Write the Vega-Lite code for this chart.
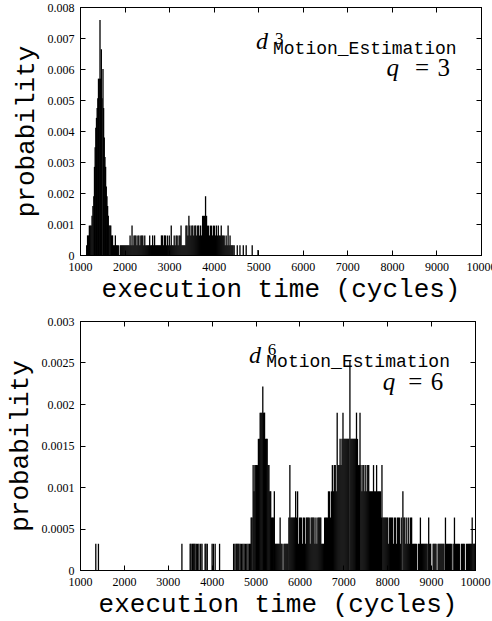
{
  "$schema": "https://vega.github.io/schema/vega-lite/v6.json",
  "padding": {"left": 5, "top": 0, "right": 0, "bottom": 0},
  "background": "white",
  "align": "none",
  "spacing": 12,
  "datasets": {
    "one": [{"k": 1}],
    "top": [
      {"t":1150,"p":0.000316},{"t":1170,"p":0.000632},{"t":1190,"p":0.000632},{"t":1210,"p":0.000948},{"t":1230,"p":0.000948},{"t":1250,"p":0.000948},{"t":1270,"p":0.001264},{"t":1290,"p":0.00158},{"t":1310,"p":0.001896},{"t":1325,"p":0.002844},{"t":1340,"p":0.003476},{"t":1355,"p":0.004108},{"t":1370,"p":0.004424},{"t":1385,"p":0.00474},{"t":1400,"p":0.005056},{"t":1415,"p":0.005688},{"t":1432,"p":0.005688},{"t":1449,"p":0.007584},{"t":1462,"p":0.005688},{"t":1479,"p":0.006636},{"t":1495,"p":0.005056},{"t":1516,"p":0.006004},{"t":1530,"p":0.00474},{"t":1545,"p":0.003792},{"t":1560,"p":0.00316},{"t":1575,"p":0.002844},{"t":1590,"p":0.002212},{"t":1605,"p":0.001896},{"t":1620,"p":0.00158},{"t":1635,"p":0.001264},{"t":1650,"p":0.000948},{"t":1670,"p":0.000948},{"t":1690,"p":0.000948},{"t":1710,"p":0.000632},{"t":1730,"p":0.000632},{"t":1750,"p":0.000316},
      {"t":1772,"p":0.000316},{"t":1794,"p":0.000632},{"t":1816,"p":0.000316},{"t":1838,"p":0.000316},{"t":1860,"p":0.000316},{"t":1904,"p":0.000316},{"t":1926,"p":0.000316},{"t":1948,"p":0.000316},{"t":1970,"p":0.000316},{"t":1992,"p":0.000316},{"t":2014,"p":0.000316},{"t":2036,"p":0.000316},{"t":2058,"p":0.000316},{"t":2080,"p":0.000316},{"t":2102,"p":0.000316},{"t":2124,"p":0.000632},{"t":2146,"p":0.000316},{"t":2168,"p":0.000948},{"t":2190,"p":0.000316},{"t":2212,"p":0.000632},{"t":2234,"p":0.000632},{"t":2256,"p":0.000632},{"t":2278,"p":0.000316},{"t":2300,"p":0.000632},{"t":2322,"p":0.000632},{"t":2344,"p":0.000316},{"t":2366,"p":0.000632},{"t":2388,"p":0.000632},{"t":2410,"p":0.000632},{"t":2432,"p":0.000316},{"t":2454,"p":0.000632},{"t":2476,"p":0.000316},{"t":2498,"p":0.000316},{"t":2520,"p":0.000316},{"t":2542,"p":0.000316},{"t":2564,"p":0.000632},{"t":2586,"p":0.000316},{"t":2608,"p":0.000316},{"t":2630,"p":0.000632},{"t":2652,"p":0.000316},{"t":2674,"p":0.000632},{"t":2696,"p":0.000316},{"t":2718,"p":0.000316},{"t":2740,"p":0.000316},{"t":2762,"p":0.000316},{"t":2784,"p":0.000316},{"t":2806,"p":0.000316},{"t":2828,"p":0.000632},{"t":2850,"p":0.000632},{"t":2872,"p":0.000316},{"t":2894,"p":0.000632},{"t":2916,"p":0.000632},{"t":2938,"p":0.000316},{"t":2960,"p":0.000632},{"t":2982,"p":0.000316},{"t":3004,"p":0.000632},{"t":3026,"p":0.000316},{"t":3048,"p":0.000948},{"t":3070,"p":0.000316},{"t":3092,"p":0.000316},{"t":3114,"p":0.000632},{"t":3136,"p":0.000316},{"t":3158,"p":0.000632},{"t":3180,"p":0.000632},{"t":3202,"p":0.000316},{"t":3224,"p":0.000632},{"t":3246,"p":0.000632},{"t":3268,"p":0.000948},{"t":3290,"p":0.000316},{"t":3312,"p":0.000316},{"t":3334,"p":0.000316},{"t":3356,"p":0.000316},{"t":3378,"p":0.000948},{"t":3400,"p":0.000948},{"t":3422,"p":0.000632},{"t":3444,"p":0.001264},{"t":3466,"p":0.000948},{"t":3488,"p":0.000632},{"t":3510,"p":0.000948},{"t":3532,"p":0.000948},{"t":3554,"p":0.000632},{"t":3576,"p":0.000948},{"t":3598,"p":0.000948},{"t":3620,"p":0.000632},{"t":3642,"p":0.000948},{"t":3664,"p":0.000948},{"t":3686,"p":0.000632},{"t":3708,"p":0.000948},{"t":3730,"p":0.000632},{"t":3752,"p":0.001264},{"t":3774,"p":0.001264},{"t":3796,"p":0.001264},{"t":3818,"p":0.001896},{"t":3840,"p":0.001264},{"t":3862,"p":0.000948},{"t":3884,"p":0.000948},{"t":3906,"p":0.000632},{"t":3928,"p":0.000948},{"t":3950,"p":0.000948},{"t":3972,"p":0.000632},{"t":3994,"p":0.000948},{"t":4016,"p":0.000948},{"t":4038,"p":0.000632},{"t":4060,"p":0.000948},{"t":4082,"p":0.000632},{"t":4104,"p":0.000948},{"t":4126,"p":0.000632},{"t":4148,"p":0.000632},{"t":4170,"p":0.000948},{"t":4192,"p":0.000632},{"t":4214,"p":0.000632},{"t":4236,"p":0.000632},{"t":4258,"p":0.000316},{"t":4280,"p":0.000632},{"t":4302,"p":0.000316},{"t":4324,"p":0.000948},{"t":4346,"p":0.000316},{"t":4368,"p":0.000632},{"t":4390,"p":0.000316},{"t":4412,"p":0.000316},{"t":4434,"p":0.000316},{"t":4460,"p":0.000316},{"t":4530,"p":0.000316},{"t":4590,"p":0.000316},{"t":4665,"p":0.000316},{"t":4730,"p":0.000316},{"t":4865,"p":0.000316},{"t":4995,"p":0.000158}
    ],
    "bot": [
      {"t":1360,"p":0.000316},{"t":1420,"p":0.000316},{"t":3322,"p":0.000316},{"t":3510,"p":0.000316},{"t":3530,"p":0.000316},{"t":3560,"p":0.000316},{"t":3580,"p":0.000316},{"t":3600,"p":0.000316},{"t":3620,"p":0.000316},{"t":3650,"p":0.000316},{"t":3680,"p":0.000316},{"t":3710,"p":0.000316},{"t":3750,"p":0.000316},{"t":3780,"p":0.000316},{"t":3850,"p":0.000316},{"t":3870,"p":0.000316},{"t":3900,"p":0.000316},{"t":4010,"p":0.000316},{"t":4040,"p":0.000316},{"t":4080,"p":0.000316},{"t":4180,"p":0.000316},{"t":4500,"p":0.000316},{"t":4530,"p":0.000316},{"t":4560,"p":0.000316},{"t":4580,"p":0.000316},{"t":4600,"p":0.000316},{"t":4620,"p":0.000316},{"t":4650,"p":0.000316},{"t":4680,"p":0.000316},{"t":4710,"p":0.000316},{"t":4740,"p":0.000316},{"t":4770,"p":0.000316},{"t":4800,"p":0.000316},{"t":4830,"p":0.000316},
      {"t":4860,"p":0.000316},{"t":4880,"p":0.000316},{"t":4900,"p":0.000632},{"t":4920,"p":0.000632},{"t":4945,"p":0.001264},{"t":4965,"p":0.000948},{"t":4985,"p":0.001264},{"t":5005,"p":0.001264},{"t":5025,"p":0.001264},{"t":5045,"p":0.001264},{"t":5065,"p":0.00158},{"t":5085,"p":0.00158},{"t":5105,"p":0.001896},{"t":5125,"p":0.001896},{"t":5145,"p":0.001896},{"t":5165,"p":0.002212},{"t":5185,"p":0.001896},{"t":5205,"p":0.001896},{"t":5225,"p":0.00158},{"t":5245,"p":0.00158},{"t":5265,"p":0.00158},{"t":5285,"p":0.001264},{"t":5305,"p":0.001264},{"t":5325,"p":0.000948},{"t":5345,"p":0.000948},{"t":5365,"p":0.000632},{"t":5385,"p":0.000632},{"t":5405,"p":0.000632},{"t":5428,"p":0.000948},{"t":5450,"p":0.000316},{"t":5472,"p":0.000316},{"t":5494,"p":0.000316},{"t":5516,"p":0.000316},{"t":5538,"p":0.000316},{"t":5560,"p":0.000632},{"t":5582,"p":0.000316},{"t":5604,"p":0.000316},{"t":5648,"p":0.000316},{"t":5670,"p":0.000316},{"t":5692,"p":0.000316},{"t":5714,"p":0.000316},{"t":5736,"p":0.000316},
      {"t":5760,"p":0.000632},{"t":5782,"p":0.001264},{"t":5804,"p":0.000632},{"t":5826,"p":0.000632},{"t":5848,"p":0.000632},{"t":5870,"p":0.000632},{"t":5892,"p":0.000632},{"t":5914,"p":0.000948},{"t":5936,"p":0.000632},{"t":5958,"p":0.000948},{"t":5980,"p":0.000316},{"t":6002,"p":0.000632},{"t":6024,"p":0.000632},{"t":6046,"p":0.000632},{"t":6068,"p":0.000316},{"t":6090,"p":0.000632},{"t":6112,"p":0.000632},{"t":6134,"p":0.000316},{"t":6156,"p":0.000632},{"t":6178,"p":0.000632},{"t":6200,"p":0.000632},{"t":6222,"p":0.000632},{"t":6244,"p":0.000316},{"t":6266,"p":0.000632},{"t":6288,"p":0.000632},{"t":6310,"p":0.000632},{"t":6332,"p":0.000632},{"t":6354,"p":0.000316},{"t":6376,"p":0.000632},{"t":6398,"p":0.000316},{"t":6420,"p":0.000632},{"t":6442,"p":0.000632},{"t":6464,"p":0.000632},{"t":6486,"p":0.000632},{"t":6508,"p":0.000316},{"t":6530,"p":0.000316},{"t":6552,"p":0.000316},{"t":6574,"p":0.000632},{"t":6596,"p":0.000632},
      {"t":6618,"p":0.000632},{"t":6640,"p":0.000632},{"t":6662,"p":0.000948},{"t":6684,"p":0.000948},{"t":6706,"p":0.000632},{"t":6728,"p":0.000948},{"t":6750,"p":0.001264},{"t":6772,"p":0.000948},{"t":6794,"p":0.001264},{"t":6816,"p":0.001264},{"t":6838,"p":0.000948},{"t":6860,"p":0.001896},{"t":6882,"p":0.001264},{"t":6904,"p":0.001264},{"t":6926,"p":0.00158},{"t":6948,"p":0.001264},{"t":6970,"p":0.00158},{"t":6992,"p":0.001896},{"t":7014,"p":0.00158},{"t":7036,"p":0.00158},{"t":7058,"p":0.00158},{"t":7080,"p":0.00158},{"t":7102,"p":0.00158},{"t":7124,"p":0.00158},{"t":7150,"p":0.002528},{"t":7172,"p":0.00158},{"t":7194,"p":0.00158},{"t":7216,"p":0.00158},{"t":7238,"p":0.00158},{"t":7260,"p":0.00158},{"t":7282,"p":0.00158},{"t":7300,"p":0.001896},{"t":7322,"p":0.00158},{"t":7344,"p":0.001264},{"t":7366,"p":0.001264},{"t":7380,"p":0.001896},{"t":7402,"p":0.001264},{"t":7424,"p":0.000948},{"t":7446,"p":0.001264},{"t":7468,"p":0.001264},{"t":7490,"p":0.000948},{"t":7512,"p":0.001264},{"t":7534,"p":0.000948},{"t":7556,"p":0.001264},{"t":7578,"p":0.001264},{"t":7600,"p":0.000948},{"t":7622,"p":0.000948},{"t":7644,"p":0.000948},{"t":7666,"p":0.000948},{"t":7688,"p":0.001264},{"t":7710,"p":0.000948},{"t":7732,"p":0.000948},{"t":7758,"p":0.001264},{"t":7780,"p":0.000948},{"t":7802,"p":0.000948},{"t":7824,"p":0.000948},{"t":7846,"p":0.000948},{"t":7868,"p":0.000632},{"t":7880,"p":0.001264},{"t":7902,"p":0.000632},{"t":7924,"p":0.000632},{"t":7946,"p":0.000632},{"t":7968,"p":0.000632},{"t":7990,"p":0.000632},{"t":8012,"p":0.000632},{"t":8034,"p":0.000316},{"t":8056,"p":0.000632},{"t":8078,"p":0.000632},{"t":8100,"p":0.000632},{"t":8122,"p":0.000632},{"t":8144,"p":0.000316},{"t":8166,"p":0.000632},{"t":8188,"p":0.000632},{"t":8210,"p":0.000316},{"t":8232,"p":0.000632},{"t":8254,"p":0.000632},{"t":8276,"p":0.000632},{"t":8298,"p":0.000316},{"t":8320,"p":0.000632},{"t":8357,"p":0.000948},{"t":8380,"p":0.000632},{"t":8402,"p":0.000632},{"t":8424,"p":0.000316},{"t":8446,"p":0.000632},{"t":8468,"p":0.000316},{"t":8490,"p":0.000632},{"t":8512,"p":0.000316},{"t":8534,"p":0.000632},{"t":8556,"p":0.000632},
      {"t":8578,"p":0.000316},{"t":8600,"p":0.000316},{"t":8622,"p":0.000316},{"t":8644,"p":0.000316},{"t":8666,"p":0.000316},{"t":8710,"p":0.000316},{"t":8732,"p":0.000316},{"t":8756,"p":0.000632},{"t":8778,"p":0.000316},{"t":8800,"p":0.000316},{"t":8822,"p":0.000316},{"t":8844,"p":0.000316},{"t":8866,"p":0.000316},{"t":8888,"p":0.000316},{"t":8910,"p":0.000316},{"t":8945,"p":0.000632},{"t":8968,"p":0.000316},{"t":8990,"p":0.000316},{"t":9046,"p":0.000316},{"t":9068,"p":0.000316},{"t":9090,"p":0.000316},{"t":9112,"p":0.000316},{"t":9160,"p":0.000316},{"t":9182,"p":0.000316},{"t":9204,"p":0.000316},{"t":9226,"p":0.000316},{"t":9248,"p":0.000316},{"t":9270,"p":0.000316},{"t":9292,"p":0.000316},{"t":9327,"p":0.000632},{"t":9350,"p":0.000316},{"t":9372,"p":0.000316},{"t":9394,"p":0.000316},{"t":9416,"p":0.000316},{"t":9438,"p":0.000316},{"t":9460,"p":0.000316},{"t":9502,"p":0.000316},{"t":9532,"p":0.000632},{"t":9555,"p":0.000316},{"t":9577,"p":0.000316},{"t":9599,"p":0.000316},{"t":9621,"p":0.000316},{"t":9643,"p":0.000316},{"t":9690,"p":0.000316},{"t":9712,"p":0.000316},{"t":9734,"p":0.000316},{"t":9756,"p":0.000316},{"t":9805,"p":0.000316},{"t":9827,"p":0.000316},{"t":9849,"p":0.000316},{"t":9871,"p":0.000316},{"t":9893,"p":0.000316},{"t":9915,"p":0.000316},{"t":9936,"p":0.000632},{"t":9958,"p":0.000316},{"t":9980,"p":0.000316},{"t":9998,"p":0.000316}
    ]
  },
  "vconcat": [
    {
      "width": 401,
      "height": 248,
      "layer": [
        {
          "data": {"name": "top"},
          "mark": {"type": "rule", "color": "black", "strokeWidth": 1.3},
          "encoding": {
            "x": {"field": "t", "type": "quantitative", "scale": {"domain": [1000, 10000], "nice": false, "zero": false},
                  "axis": {"values": [1000,2000,3000,4000,5000,6000,7000,8000,9000,10000], "format": "d", "title": "execution time (cycles)"}},
            "y": {"field": "p", "type": "quantitative", "scale": {"domain": [0, 0.008], "nice": false},
                  "axis": {"values": [0,0.001,0.002,0.003,0.004,0.005,0.006,0.007,0.008], "format": "~g", "title": "probability"}},
            "y2": {"datum": 0}
          }
        },
        {
          "data": {"name": "top"},
          "mark": {"type": "point", "opacity": 0, "size": 0},
          "encoding": {
            "x": {"field": "t", "type": "quantitative", "axis": {"orient": "top", "labels": false, "title": null, "values": [1000,2000,3000,4000,5000,6000,7000,8000,9000,10000]}},
            "y": {"field": "p", "type": "quantitative", "axis": {"orient": "right", "labels": false, "title": null, "values": [0,0.001,0.002,0.003,0.004,0.005,0.006,0.007,0.008]}}
          }
        },
        {"data": {"name": "one"},
         "mark": {"type": "text", "text": "d", "align": "left", "baseline": "alphabetic", "font": "Liberation Serif", "fontStyle": "italic", "fontSize": 24, "color": "black"},
         "encoding": {"x": {"datum": 4950, "type": "quantitative", "axis": null}, "y": {"datum": 0.006655, "type": "quantitative", "axis": null}}},
        {"data": {"name": "one"},
         "mark": {"type": "text", "text": "3", "align": "left", "baseline": "alphabetic", "font": "Liberation Serif", "fontSize": 17, "color": "black"},
         "encoding": {"x": {"datum": 5376, "type": "quantitative", "axis": null}, "y": {"datum": 0.006806, "type": "quantitative", "axis": null}}},
        {"data": {"name": "one"},
         "mark": {"type": "text", "text": "Motion_Estimation", "align": "left", "baseline": "alphabetic", "font": "Liberation Mono", "fontSize": 18, "color": "black"},
         "encoding": {"x": {"datum": 5331, "type": "quantitative", "axis": null}, "y": {"datum": 0.006494, "type": "quantitative", "axis": null}}},
        {"data": {"name": "one"},
         "mark": {"type": "text", "text": "q", "align": "right", "baseline": "alphabetic", "font": "Liberation Serif", "fontStyle": "italic", "fontSize": 25, "color": "black"},
         "encoding": {"x": {"datum": 8160, "type": "quantitative", "axis": null}, "y": {"datum": 0.005774, "type": "quantitative", "axis": null}}},
        {"data": {"name": "one"},
         "mark": {"type": "text", "text": "=", "align": "center", "baseline": "alphabetic", "font": "Liberation Serif", "fontSize": 25, "color": "black"},
         "encoding": {"x": {"datum": 8675, "type": "quantitative", "axis": null}, "y": {"datum": 0.005774, "type": "quantitative", "axis": null}}},
        {"data": {"name": "one"},
         "mark": {"type": "text", "text": "3", "align": "right", "baseline": "alphabetic", "font": "Liberation Serif", "fontSize": 25, "color": "black"},
         "encoding": {"x": {"datum": 9303, "type": "quantitative", "axis": null}, "y": {"datum": 0.005774, "type": "quantitative", "axis": null}}}
      ],
      "resolve": {"axis": {"x": "independent", "y": "independent"}}
    },
    {
      "width": 395,
      "height": 249,
      "layer": [
        {
          "data": {"name": "bot"},
          "mark": {"type": "rule", "color": "black", "strokeWidth": 1.3},
          "encoding": {
            "x": {"field": "t", "type": "quantitative", "scale": {"domain": [1000, 10000], "nice": false, "zero": false},
                  "axis": {"values": [1000,2000,3000,4000,5000,6000,7000,8000,9000,10000], "format": "d", "title": "execution time (cycles)"}},
            "y": {"field": "p", "type": "quantitative", "scale": {"domain": [0, 0.003], "nice": false},
                  "axis": {"values": [0,0.0005,0.001,0.0015,0.002,0.0025,0.003], "format": "~g", "title": "probability"}},
            "y2": {"datum": 0}
          }
        },
        {
          "data": {"name": "bot"},
          "mark": {"type": "point", "opacity": 0, "size": 0},
          "encoding": {
            "x": {"field": "t", "type": "quantitative", "axis": {"orient": "top", "labels": false, "title": null, "values": [1000,2000,3000,4000,5000,6000,7000,8000,9000,10000]}},
            "y": {"field": "p", "type": "quantitative", "axis": {"orient": "right", "labels": false, "title": null, "values": [0,0.0005,0.001,0.0015,0.002,0.0025,0.003]}}
          }
        },
        {"data": {"name": "one"},
         "mark": {"type": "text", "text": "d", "align": "left", "baseline": "alphabetic", "font": "Liberation Serif", "fontStyle": "italic", "fontSize": 24, "color": "black"},
         "encoding": {"x": {"datum": 4850, "type": "quantitative", "axis": null}, "y": {"datum": 0.002492, "type": "quantitative", "axis": null}}},
        {"data": {"name": "one"},
         "mark": {"type": "text", "text": "6", "align": "left", "baseline": "alphabetic", "font": "Liberation Serif", "fontSize": 17, "color": "black"},
         "encoding": {"x": {"datum": 5280, "type": "quantitative", "axis": null}, "y": {"datum": 0.002591, "type": "quantitative", "axis": null}}},
        {"data": {"name": "one"},
         "mark": {"type": "text", "text": "Motion_Estimation", "align": "left", "baseline": "alphabetic", "font": "Liberation Mono", "fontSize": 18, "color": "black"},
         "encoding": {"x": {"datum": 5245, "type": "quantitative", "axis": null}, "y": {"datum": 0.00244, "type": "quantitative", "axis": null}}},
        {"data": {"name": "one"},
         "mark": {"type": "text", "text": "q", "align": "right", "baseline": "alphabetic", "font": "Liberation Serif", "fontStyle": "italic", "fontSize": 25, "color": "black"},
         "encoding": {"x": {"datum": 8182, "type": "quantitative", "axis": null}, "y": {"datum": 0.002171, "type": "quantitative", "axis": null}}},
        {"data": {"name": "one"},
         "mark": {"type": "text", "text": "=", "align": "center", "baseline": "alphabetic", "font": "Liberation Serif", "fontSize": 25, "color": "black"},
         "encoding": {"x": {"datum": 8638, "type": "quantitative", "axis": null}, "y": {"datum": 0.002171, "type": "quantitative", "axis": null}}},
        {"data": {"name": "one"},
         "mark": {"type": "text", "text": "6", "align": "right", "baseline": "alphabetic", "font": "Liberation Serif", "fontSize": 25, "color": "black"},
         "encoding": {"x": {"datum": 9277, "type": "quantitative", "axis": null}, "y": {"datum": 0.002171, "type": "quantitative", "axis": null}}}
      ],
      "resolve": {"axis": {"x": "independent", "y": "independent"}}
    }
  ],
  "config": {
    "view": {"stroke": "black", "strokeWidth": 1},
    "axis": {
      "grid": false,
      "domainColor": "black",
      "tickColor": "black",
      "tickSize": -5,
      "labelPadding": 11,
      "labelFont": "Liberation Serif",
      "labelFontSize": 12,
      "labelColor": "black",
      "labelFlush": false,
      "labelOverlap": false,
      "titleFont": "Liberation Mono",
      "titleFontSize": 26,
      "titleFontWeight": "normal",
      "titleColor": "black"
    },
    "axisY": {"titlePadding": 9},
    "axisX": {"titlePadding": 3}
  }
}
